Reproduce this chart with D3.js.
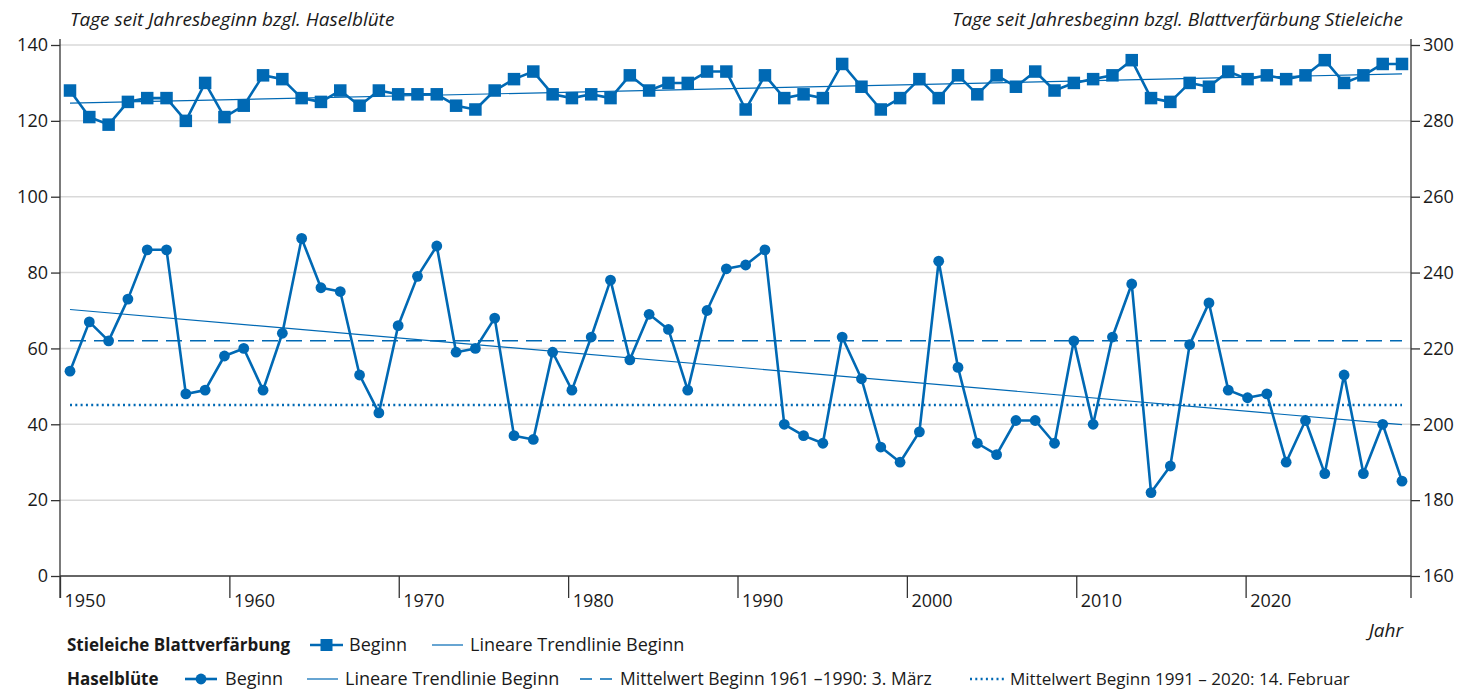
<!DOCTYPE html>
<html lang="de">
<head>
<meta charset="utf-8">
<script src="https://cdn.jsdelivr.net/npm/d3@7"></script>
<style>
    body { margin: 0; background: #fff; }
    text { font-family: "Open Sans", Lato, sans-serif; fill: #1a1a1a; }
</style>
</head>
<body>
<div id="chart"></div>
<script>
// Jahre 1951 - 2020
const years = d3.range(1951, 2021);

// Haselblüte, Beginn (Tage seit Jahresbeginn)
const haselBeginn = [54, 67, 62, 73, 86, 86, 48, 49, 58, 60,
    49, 64, 89, 76, 75, 53, 43, 66, 79, 87,
    59, 60, 68, 37, 36, 59, 49, 63, 78, 57,
    69, 65, 49, 70, 81, 82, 86, 40, 37, 35,
    63, 52, 34, 30, 38, 83, 55, 35, 32, 41,
    41, 35, 62, 40, 63, 77, 22, 29, 61, 72,
    49, 47, 48, 30, 41, 27, 53, 27, 40, 25];

// Stieleiche Blattverfärbung, Beginn (rechte Achse)
const eicheBeginn = [288, 281, 279, 285, 286, 286, 280, 290, 281, 284,
    292, 291, 286, 285, 288, 284, 288, 287, 287, 287,
    284, 283, 288, 291, 293, 287, 286, 287, 286, 292,
    288, 290, 290, 293, 293, 283, 292, 286, 287, 286,
    295, 289, 283, 286, 291, 286, 292, 287, 292, 289,
    293, 288, 290, 291, 292, 296, 286, 285, 290, 289,
    293, 291, 292, 291, 292, 296, 290, 292, 295, 295];

const leftTicks = [0, 20, 40, 60, 80, 100, 120, 140];
const rightTicks = [160, 180, 200, 220, 240, 260, 280, 300];
const decadeTicks = [1950, 1960, 1970, 1980, 1990, 2000, 2010, 2020];

const mean1Period = [1961, 1990];
const mean2Period = [1991, 2020];

const blue = "#0069b4";

class PhenoChart {
    constructor(parentElement) {
        this.parentElement = parentElement;
        this.initVis();
    }

    initVis() {
        let vis = this;

        vis.width = 1474;
        vis.height = 690;
        vis.left = 60;
        vis.right = 1411;
        vis.top = 45;
        vis.bottom = 576;

        vis.svg = d3.select("#" + vis.parentElement).append("svg")
            .attr("width", vis.width)
            .attr("height", vis.height);

        // data positions and axis labels do not share one grid in the original
        vis.x = d3.scaleLinear().domain([1951, 2020]).range([70, 1402]);
        vis.xAxisScale = d3.scaleLinear().domain([1950, 2030]).range([vis.left, 1415]);
        vis.yLeft = d3.scaleLinear().domain([0, 140]).range([vis.bottom, vis.top]);
        vis.yRight = d3.scaleLinear().domain([160, 300]).range([vis.bottom, vis.top]);

        vis.drawGrid();
        vis.drawAxes();
        vis.drawHasel();
        vis.drawEiche();
        vis.drawLegend();
    }

    drawGrid() {
        let vis = this;
        vis.svg.append("g").selectAll("line")
            .data(leftTicks.filter(d => d > 0))
            .enter().append("line")
            .attr("x1", vis.left).attr("x2", vis.right)
            .attr("y1", d => vis.yLeft(d)).attr("y2", d => vis.yLeft(d))
            .attr("stroke", "#d9d9d9")
            .attr("stroke-width", 1.5);
    }

    drawAxes() {
        let vis = this;

        let leftAxis = vis.svg.append("g")
            .attr("transform", `translate(${vis.left},0)`)
            .call(d3.axisLeft(vis.yLeft).tickValues(leftTicks).tickSize(9).tickPadding(3));
        let rightAxis = vis.svg.append("g")
            .attr("transform", `translate(${vis.right},0)`)
            .call(d3.axisRight(vis.yRight).tickValues(rightTicks).tickSize(9).tickPadding(3));
        let bottomAxis = vis.svg.append("g")
            .attr("transform", `translate(0,${vis.bottom})`)
            .call(d3.axisBottom(vis.xAxisScale).tickValues(decadeTicks).tickSize(22).tickFormat(d3.format("d")));

        [leftAxis, rightAxis, bottomAxis].forEach(g => {
            g.select(".domain").remove();
            g.selectAll(".tick line").attr("stroke", "#333").attr("stroke-width", 1.3);
            g.selectAll("text").style("font-size", "18px").attr("fill", "#1a1a1a");
        });
        bottomAxis.selectAll("text")
            .attr("text-anchor", "start")
            .attr("x", 4)
            .attr("y", 18)
            .attr("dy", "0.71em");

        // axis lines
        vis.svg.append("line")
            .attr("x1", vis.left).attr("x2", vis.right)
            .attr("y1", vis.bottom).attr("y2", vis.bottom)
            .attr("stroke", "#333").attr("stroke-width", 1.3);
        [vis.left, vis.right].forEach(x => {
            vis.svg.append("line")
                .attr("x1", x).attr("x2", x)
                .attr("y1", vis.top - 6).attr("y2", vis.bottom + 22)
                .attr("stroke", "#333").attr("stroke-width", 1.3);
        });

        vis.svg.append("text")
            .attr("x", 70).attr("y", 26)
            .style("font-size", "19px").style("font-style", "italic")
            .text("Tage seit Jahresbeginn bzgl. Haselblüte");
        vis.svg.append("text")
            .attr("x", 1403).attr("y", 26)
            .attr("text-anchor", "end")
            .style("font-size", "19px").style("font-style", "italic")
            .text("Tage seit Jahresbeginn bzgl. Blattverfärbung Stieleiche");
        vis.svg.append("text")
            .attr("x", 1403).attr("y", 637)
            .attr("text-anchor", "end")
            .style("font-size", "19px").style("font-style", "italic")
            .text("Jahr");
    }

    trend(values) {
        let mx = d3.mean(years), my = d3.mean(values);
        let sxy = d3.sum(years, (yr, i) => (yr - mx) * (values[i] - my));
        let sxx = d3.sum(years, yr => (yr - mx) * (yr - mx));
        let b = sxy / sxx;
        let a = my - b * mx;
        return [years[0], years[years.length - 1]].map(yr => [yr, a + b * yr]);
    }

    periodMean(values, period) {
        return d3.mean(years.map((yr, i) => (yr >= period[0] && yr <= period[1]) ? values[i] : null).filter(v => v !== null));
    }

    drawHasel() {
        let vis = this;
        let pts = years.map((yr, i) => [yr, haselBeginn[i]]);
        let line = d3.line().x(d => vis.x(d[0])).y(d => vis.yLeft(d[1]));
        let x0 = years[0], x1 = years[years.length - 1];

        let m1 = vis.periodMean(haselBeginn, mean1Period);
        let m2 = vis.periodMean(haselBeginn, mean2Period);

        vis.svg.append("path")
            .attr("d", line([[x0, m1], [x1, m1]]))
            .attr("stroke", blue).attr("stroke-width", 1.5)
            .attr("stroke-dasharray", "16,8").attr("fill", "none");
        vis.svg.append("path")
            .attr("d", line([[x0, m2], [x1, m2]]))
            .attr("stroke", blue).attr("stroke-width", 2.4)
            .attr("stroke-dasharray", "2,3.3").attr("fill", "none");

        vis.svg.append("path")
            .attr("d", line(vis.trend(haselBeginn)))
            .attr("stroke", blue).attr("stroke-width", 1.2).attr("fill", "none");

        vis.svg.append("path")
            .attr("d", line(pts))
            .attr("stroke", blue).attr("stroke-width", 2.6)
            .attr("stroke-linejoin", "round").attr("fill", "none");
        vis.svg.append("g").selectAll("circle")
            .data(pts)
            .enter().append("circle")
            .attr("cx", d => vis.x(d[0]))
            .attr("cy", d => vis.yLeft(d[1]))
            .attr("r", 5.4)
            .attr("fill", blue);
    }

    drawEiche() {
        let vis = this;
        let pts = years.map((yr, i) => [yr, eicheBeginn[i]]);
        let line = d3.line().x(d => vis.x(d[0])).y(d => vis.yRight(d[1]));

        vis.svg.append("path")
            .attr("d", line(vis.trend(eicheBeginn)))
            .attr("stroke", blue).attr("stroke-width", 1.2).attr("fill", "none");
        vis.svg.append("path")
            .attr("d", line(pts))
            .attr("stroke", blue).attr("stroke-width", 2.6)
            .attr("stroke-linejoin", "round").attr("fill", "none");
        let s = 12.5;
        vis.svg.append("g").selectAll("rect")
            .data(pts)
            .enter().append("rect")
            .attr("x", d => vis.x(d[0]) - s / 2)
            .attr("y", d => vis.yRight(d[1]) - s / 2)
            .attr("width", s).attr("height", s)
            .attr("fill", blue);
    }

    drawLegend() {
        let vis = this;
        let g = vis.svg.append("g");

        let label = (x, y, txt, size, bold) => g.append("text")
            .attr("x", x).attr("y", y).attr("dy", "0.35em")
            .style("font-size", size + "px")
            .style("font-weight", bold ? "bold" : "normal")
            .text(txt);
        let seg = (x1, x2, y, w, dash) => g.append("line")
            .attr("x1", x1).attr("x2", x2).attr("y1", y).attr("y2", y)
            .attr("stroke", blue).attr("stroke-width", w)
            .attr("stroke-dasharray", dash || null);

        // Stieleiche
        let y1 = 645;
        label(67, y1, "Stieleiche Blattverfärbung", 17, true);
        seg(310, 343, y1, 2.6);
        g.append("rect").attr("x", 326.5 - 6).attr("y", y1 - 6).attr("width", 12).attr("height", 12).attr("fill", blue);
        label(349, y1, "Beginn", 18);
        seg(432, 463, y1, 1.2);
        label(470, y1, "Lineare Trendlinie Beginn", 18);

        // Haselblüte
        let y2 = 679;
        label(67, y2, "Haselblüte", 17, true);
        seg(185, 217, y2, 2.6);
        g.append("circle").attr("cx", 201).attr("cy", y2).attr("r", 5.4).attr("fill", blue);
        label(225, y2, "Beginn", 18);
        seg(307, 338, y2, 1.2);
        label(345, y2, "Lineare Trendlinie Beginn", 18);
        seg(580, 612, y2, 1.5, "12,8");
        label(620, y2, "Mittelwert Beginn 1961 –1990: 3. März", 17.5);
        seg(970, 1004, y2, 2.4, "2,3.3");
        label(1010, y2, "Mittelwert Beginn 1991 – 2020: 14. Februar", 17);
    }
}

new PhenoChart("chart");
</script>
</body>
</html>
